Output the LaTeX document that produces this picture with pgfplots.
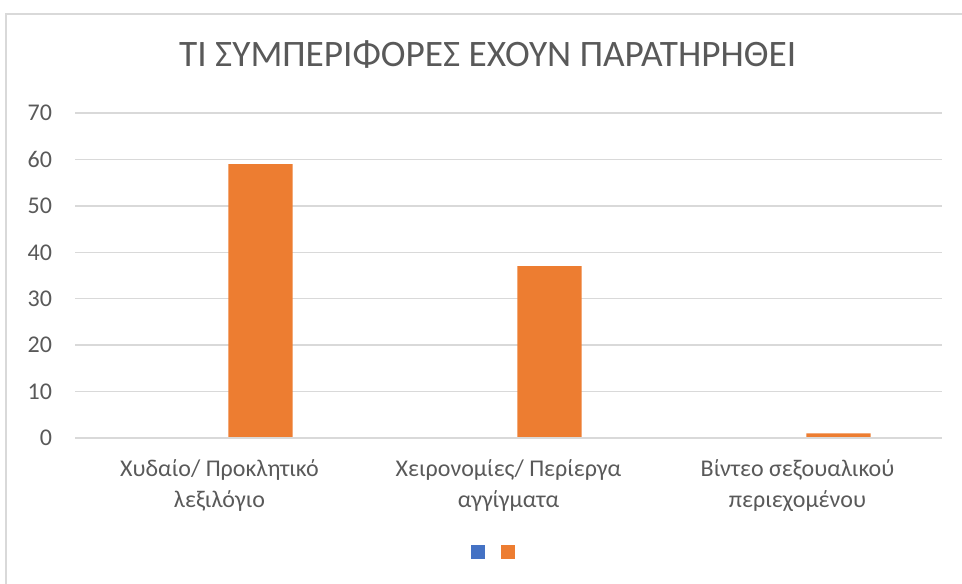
\documentclass[border=0pt]{standalone}
\usepackage{pgfplots}
\pgfplotsset{compat=1.18}
\usepackage{fontspec}
\setmainfont{Carlito}
\definecolor{txt}{HTML}{595959}
\definecolor{grd}{HTML}{D9D9D9}
\definecolor{sblue}{HTML}{4472C4}
\definecolor{sorange}{HTML}{ED7D31}
\begin{document}
\begin{tikzpicture}
\path[use as bounding box] (0pt,0pt) rectangle (721.5pt,437.25pt);
\draw[grd, line width=1.2pt] (4.5pt,426.75pt) rectangle (740pt,-20pt);
\begin{axis}[
  at={(56.25pt,108.75pt)}, anchor=south west,
  scale only axis, width=650.25pt, height=243.75pt,
  xmin=-0.5, xmax=2.5, ymin=0, ymax=70,
  ytick={0,10,...,70},
  xtick={0,1,2},
  xticklabels={{Χυδαίο/ Προκλητικό\\λεξιλόγιο},{Χειρονομίες/ Περίεργα\\αγγίγματα},{Βίντεο σεξουαλικού\\περιεχομένου}},
  /pgf/number format/assume math mode=true,
  axis line style={draw=none},
  axis x line*=bottom,
  major tick length=0pt,
  ymajorgrids, grid style={grd, line width=1pt},
  tick label style={font=\fontsize{18}{23.5}\selectfont, text=txt},
  yticklabel style={anchor=east, inner sep=0pt, xshift=-17pt},
  xticklabel style={align=center, anchor=north, inner sep=0pt, yshift=-16pt},
  title={ΤΙ ΣΥΜΠΕΡΙΦΟΡΕΣ ΕΧΟΥΝ ΠΑΡΑΤΗΡΗΘΕΙ},
  title style={at={(0.476,1.12)}, anchor=base, font=\fontsize{28}{31}\selectfont, text=txt, inner sep=0pt},
  ybar, bar width=0.2228,
  legend style={at={(0.485,-0.351)}, anchor=center, draw=none, legend columns=2,
    /tikz/every even column/.append style={column sep=8.25pt}},
  legend image code/.code={\fill[#1] (0pt,-5.25pt) rectangle (10.5pt,5.25pt);},
]
\addplot[fill=sblue, draw=none, bar shift=-0.1419] coordinates {(0,0) (1,0) (2,0)};
\addlegendentry{}
\addplot[fill=sorange, draw=none, bar shift=0.1419] coordinates {(0,59) (1,37) (2,1)};
\addlegendentry{}
\draw[grd, line width=1pt] (axis cs:-0.5,0) -- (axis cs:2.5,0);
\end{axis}
\end{tikzpicture}
\end{document}
